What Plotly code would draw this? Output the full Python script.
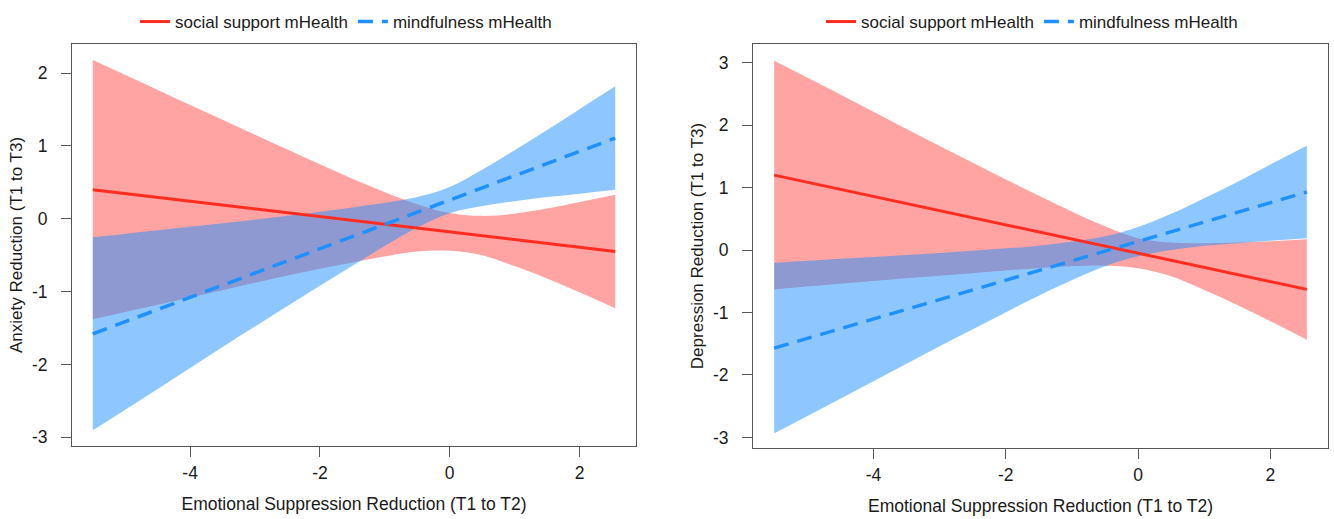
import plotly.graph_objects as go

# ---------------- data ----------------
x_vals = [-5.5, -4.5, -3.5, -2.5, -1.5, -0.5, 0.0, 0.5, 1.0, 1.5, 2.0, 2.55]

# Anxiety panel
anx_social_fit = [0.40, 0.294, 0.189, 0.083, -0.022, -0.128, -0.181, -0.234, -0.286, -0.339, -0.392, -0.45]
anx_social_hi = [2.18, 1.77, 1.36, 0.95, 0.55, 0.20, 0.08, 0.04, 0.07, 0.14, 0.23, 0.33]
anx_social_lo = [-1.38, -1.18, -0.98, -0.78, -0.60, -0.45, -0.44, -0.50, -0.65, -0.82, -1.01, -1.23]
anx_mind_fit = [-1.58, -1.246, -0.912, -0.578, -0.244, 0.090, 0.257, 0.424, 0.591, 0.758, 0.925, 1.109]
anx_mind_hi = [-0.255, -0.156, -0.062, 0.042, 0.156, 0.30, 0.437, 0.674, 0.941, 1.218, 1.505, 1.819]
anx_mind_lo = [-2.905, -2.336, -1.762, -1.198, -0.644, -0.12, 0.077, 0.174, 0.241, 0.298, 0.345, 0.399]

# Depression panel
dep_social_fit = [1.20, 0.973, 0.745, 0.518, 0.291, 0.064, -0.050, -0.164, -0.277, -0.391, -0.505, -0.63]
dep_social_hi = [3.03, 2.49, 1.94, 1.40, 0.87, 0.38, 0.19, 0.12, 0.11, 0.12, 0.14, 0.175]
dep_social_lo = [-0.63, -0.54, -0.45, -0.37, -0.29, -0.25, -0.29, -0.42, -0.64, -0.88, -1.14, -1.435]
dep_mind_fit = [-1.57, -1.259, -0.948, -0.637, -0.327, -0.016, 0.138, 0.294, 0.449, 0.604, 0.760, 0.93]
dep_mind_hi = [-0.205, -0.14, -0.08, -0.01, 0.07, 0.22, 0.37, 0.58, 0.83, 1.09, 1.37, 1.67]
dep_mind_lo = [-2.935, -2.38, -1.82, -1.27, -0.73, -0.26, -0.10, 0.00, 0.07, 0.11, 0.15, 0.19]

series_names = ["social support mHealth", "mindfulness mHealth"]
x_title = "Emotional Suppression Reduction (T1 to T2)"
y_titles = ["Anxiety Reduction (T1 to T3)", "Depression Reduction (T1 to T3)"]
x_ticks = [-4, -2, 0, 2]
y_ticks_anx = [-3, -2, -1, 0, 1, 2]
y_ticks_dep = [-3, -2, -1, 0, 1, 2, 3]

# ---------------- styles ----------------
RED_LINE = "#FF2D20"
BLUE_LINE = "#1E90FF"
RED_FILL = "rgba(255,0,0,0.36)"
BLUE_FILL = "rgba(30,144,255,0.5)"
FONT = "Liberation Sans, Arial, Helvetica, sans-serif"
AXC = "#555555"
TXT = "#1a1a1a"
SMOOTH = 1.0

fig = go.Figure()


def add_panel(xa, ya, legend, s_fit, s_hi, s_lo, m_fit, m_hi, m_lo):
    band_line = dict(width=0, shape="spline", smoothing=SMOOTH)
    # red band
    fig.add_trace(go.Scatter(x=x_vals, y=s_lo, xaxis=xa, yaxis=ya, mode="lines",
                             line=band_line, showlegend=False, hoverinfo="skip"))
    fig.add_trace(go.Scatter(x=x_vals, y=s_hi, xaxis=xa, yaxis=ya, mode="lines",
                             line=band_line, fill="tonexty", fillcolor=RED_FILL,
                             showlegend=False, hoverinfo="skip"))
    # blue band
    fig.add_trace(go.Scatter(x=x_vals, y=m_lo, xaxis=xa, yaxis=ya, mode="lines",
                             line=band_line, showlegend=False, hoverinfo="skip"))
    fig.add_trace(go.Scatter(x=x_vals, y=m_hi, xaxis=xa, yaxis=ya, mode="lines",
                             line=band_line, fill="tonexty", fillcolor=BLUE_FILL,
                             showlegend=False, hoverinfo="skip"))
    # fitted lines
    fig.add_trace(go.Scatter(x=x_vals, y=s_fit, xaxis=xa, yaxis=ya, mode="lines",
                             line=dict(color=RED_LINE, width=3),
                             name=series_names[0], legend=legend))
    fig.add_trace(go.Scatter(x=x_vals, y=m_fit, xaxis=xa, yaxis=ya, mode="lines",
                             line=dict(color=BLUE_LINE, width=3.5, dash="15px,9px"),
                             name=series_names[1], legend=legend))


add_panel("x", "y", "legend", anx_social_fit, anx_social_hi, anx_social_lo,
          anx_mind_fit, anx_mind_hi, anx_mind_lo)
add_panel("x2", "y2", "legend2", dep_social_fit, dep_social_hi, dep_social_lo,
          dep_mind_fit, dep_mind_hi, dep_mind_lo)

W, H = 1334, 519


def xax(domain, anchor):
    return dict(domain=domain, anchor=anchor, range=[-5.82, 2.87],
                tickmode="array", tickvals=x_ticks, ticktext=[str(v) for v in x_ticks],
                ticks="outside", ticklen=10,
                tickcolor=AXC, tickwidth=1, showline=True, mirror=True,
                linecolor=AXC, linewidth=1, showgrid=False, zeroline=False,
                ticklabelstandoff=1,
                tickfont=dict(size=17.5, color=TXT),
                title=dict(text=x_title, font=dict(size=17.5, color=TXT), standoff=15),
                automargin=False)


def yax(domain, anchor, rng, ticks, title):
    return dict(domain=domain, anchor=anchor, range=rng,
                tickmode="array", tickvals=ticks, ticktext=[str(v) for v in ticks],
                ticks="outside", ticklen=10,
                tickcolor=AXC, tickwidth=1, showline=True, mirror=True,
                linecolor=AXC, linewidth=1, showgrid=False, zeroline=False,
                ticklabelstandoff=10,
                tickfont=dict(size=17.5, color=TXT),
                title=dict(text=title, font=dict(size=17, color=TXT), standoff=4),
                automargin=False)


leg_common = dict(orientation="h", xanchor="center", xref="container",
                  yref="container", y=1 - 22 / H,
                  yanchor="middle", font=dict(size=17, color=TXT),
                  bgcolor="rgba(0,0,0,0)", itemwidth=30, tracegroupgap=0,
                  traceorder="normal")

fig.update_layout(
    width=W, height=H, autosize=False,
    margin=dict(l=0, r=0, t=0, b=0, autoexpand=False),
    paper_bgcolor="white", plot_bgcolor="white",
    font=dict(family=FONT, size=17, color=TXT),
    xaxis=xax([72 / W, 636 / W], "y"),
    yaxis=yax([1 - 446 / H, 1 - 44 / H], "x", [-3.12, 2.40], y_ticks_anx, y_titles[0]),
    xaxis2=xax([753 / W, 1328 / W], "y2"),
    yaxis2=yax([1 - 448 / H, 1 - 44 / H], "x2", [-3.17, 3.30], y_ticks_dep, y_titles[1]),
    legend=dict(x=346 / W, **leg_common),
    legend2=dict(x=1032 / W, **leg_common),
    showlegend=True,
)

fig.write_html("out.html",
               config={"displayModeBar": False},
               post_script="document.body.style.margin='0';document.body.style.overflow='hidden';")
